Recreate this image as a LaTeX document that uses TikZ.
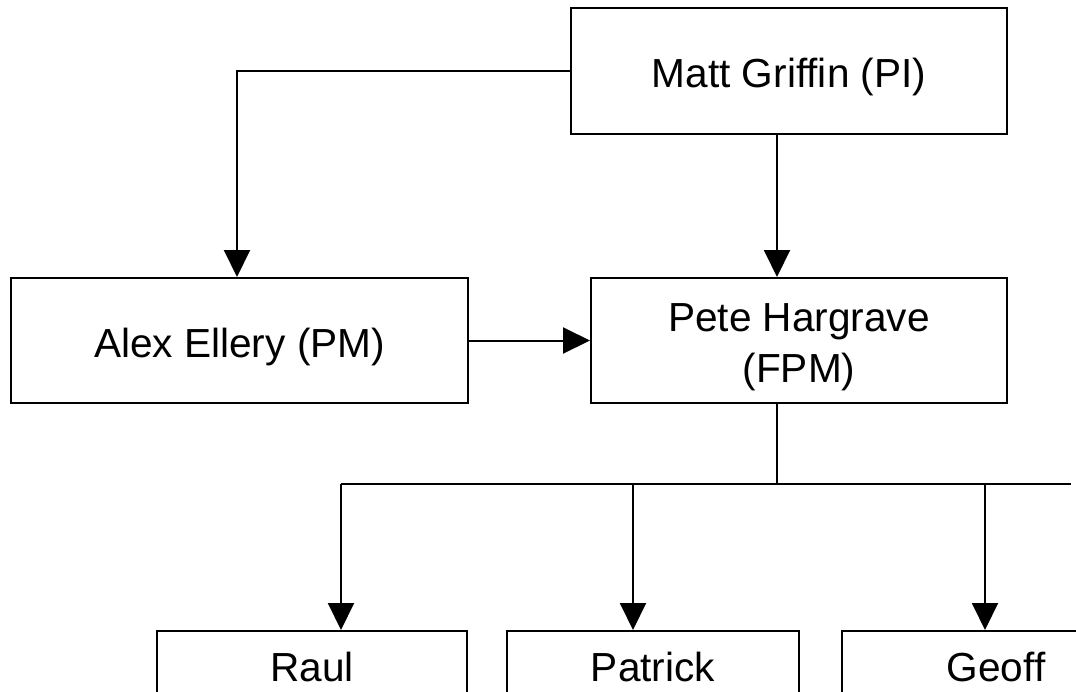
\documentclass[tikz,border=0pt]{standalone}
\usepackage{fontspec}
\setmainfont{Liberation Sans}
\usetikzlibrary{arrows.meta}
\tikzset{
  box/.style={draw, line width=2pt, rectangle, inner sep=0pt,
    font=\fontsize{40.6}{51}\selectfont, text height=33pt, text depth=0pt},
  twoline/.style={text height=33pt, text depth=52pt},
  conn/.style={line width=2pt},
  arr/.style={conn, -{Triangle[length=27pt,width=26pt]}}
}
\begin{document}
\begin{tikzpicture}[x=1pt,y=-1pt]
\useasboundingbox (0,0) rectangle (1076,691);
\clip (0,0) rectangle (1076,691);
\fill[white] (0,0) rectangle (1076,691);
\node[box, minimum width=436pt, minimum height=126pt] (matt) at (789,71) {Matt Griffin (PI)};
\node[box, minimum width=457pt, minimum height=125pt] (alex) at (239.5,340.5) {Alex Ellery (PM)};
\node[box, twoline, minimum width=416pt, minimum height=125pt] (pete) at (799,340.5) {\begin{tabular}[t]{@{}c@{}}Pete Hargrave\\(FPM)\end{tabular}};
\node[box, minimum width=310pt, minimum height=68pt] (raul) at (312,665) {Raul};
\node[box, minimum width=292pt, minimum height=68pt] (patrick) at (653,665) {Patrick};
\node[box, minimum width=308pt, minimum height=68pt] (geoff) at (996,665) {Geoff};
\coordinate (c0) at (237,0);
\coordinate (c1) at (777,0);
\coordinate (busL) at (341,484);
\coordinate (busM) at (633,484);
\coordinate (busG) at (985,484);
\coordinate (busR) at (1071,484);
\draw[arr] (matt.west) -| (alex.north -| c0);
\draw[arr] (matt.south -| c1) -- (pete.north -| c1);
\draw[arr] (alex.east) -- (pete.west);
\draw[conn] (pete.south -| c1) -- (c1 |- busL);
\draw[conn] (busL) -- (busR);
\draw[arr] (busL) -- (raul.north -| busL);
\draw[arr] (busM) -- (patrick.north -| busM);
\draw[arr] (busG) -- (geoff.north -| busG);
\end{tikzpicture}
\end{document}
